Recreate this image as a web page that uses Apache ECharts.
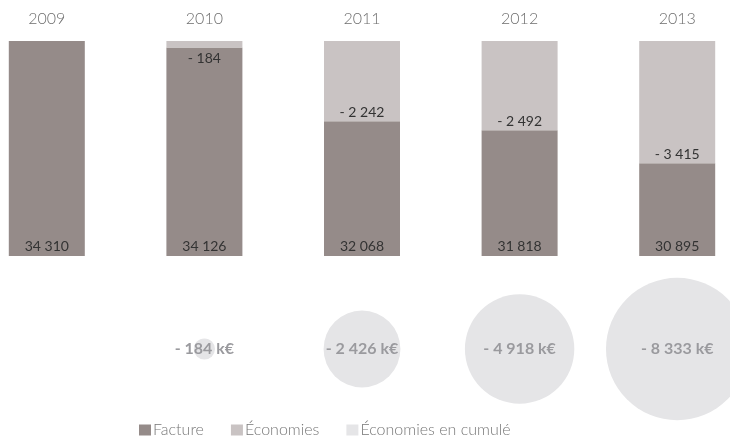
<!DOCTYPE html>
<html>
<head>
<meta charset="utf-8">
<script src="https://cdn.jsdelivr.net/npm/echarts@6/dist/echarts.min.js"></script>
<style>
    html, body { margin: 0; padding: 0; background: #fff; }
    #chart { width: 730px; height: 445px; }
</style>
</head>
<body>
<div id="chart"></div>
<script>
    const years = ['2009', '2010', '2011', '2012', '2013'];
    const facture = [34310, 34126, 32068, 31818, 30895];
    const economies = [0, 184, 2242, 2492, 3415];
    const cumul = [0, 184, 2426, 4918, 8333];

    const colors = ['#958b89', '#c9c3c3', '#e5e5e7'];
    const font = 'Lato, "Open Sans", sans-serif';

    function fmt(v) {
        return String(v).replace(/\B(?=(\d{3})+(?!\d))/g, ' ');
    }

    const bubbles = [];
    cumul.forEach(function (v, i) {
        if (v > 0) bubbles.push([years[i], 0, v]);
    });

    // la petite économie 2010 : étiquette posée sous le segment, trop fin pour la contenir
    const ecoData = economies.map(function (v) {
        if (v > 0 && v < 1000) {
            return {value: v, label: {position: 'bottom', distance: 4}};
        }
        return v;
    });

    const myChart = echarts.init(document.getElementById('chart'));
    const option = {
        color: colors,
        animation: false,
        textStyle: {fontFamily: font},
        legend: {
            left: 134,
            bottom: 2,
            itemWidth: 12,
            itemHeight: 11,
            itemGap: 27,
            icon: 'rect',
            textStyle: {color: '#777', fontSize: 16, fontWeight: 300, fontFamily: font, padding: [0, 0, 0, -3]},
            data: ['Facture', 'Économies', 'Économies en cumulé']
        },
        grid: [
            {left: -32, right: -26, top: 41, height: 215, outerBoundsMode: 'none', containLabel: false},
            {left: -32, right: -26, top: 280, height: 138, outerBoundsMode: 'none', containLabel: false}
        ],
        xAxis: [
            {
                type: 'category',
                gridIndex: 0,
                position: 'top',
                data: years,
                axisLine: {show: false},
                axisTick: {show: false},
                axisLabel: {color: '#6e6e6e', fontSize: 16, fontWeight: 300, margin: 14}
            },
            {
                type: 'category',
                gridIndex: 1,
                data: years,
                show: false
            }
        ],
        yAxis: [
            {type: 'value', gridIndex: 0, min: 28300, max: 34310, show: false},
            {type: 'value', gridIndex: 1, min: -1, max: 1, show: false}
        ],
        series: [
            {
                name: 'Facture',
                type: 'bar',
                stack: 'total',
                barWidth: 76,
                data: facture,
                label: {
                    show: true,
                    position: 'insideBottom',
                    distance: 3,
                    color: '#333',
                    fontSize: 14,
                    formatter: function (p) { return fmt(p.value); }
                }
            },
            {
                name: 'Économies',
                type: 'bar',
                stack: 'total',
                barWidth: 76,
                data: ecoData,
                label: {
                    show: true,
                    position: 'insideBottom',
                    distance: 2,
                    color: '#333',
                    fontSize: 14,
                    formatter: function (p) { return p.value > 0 ? '- ' + fmt(p.value) : ''; }
                }
            },
            {
                name: 'Économies en cumulé',
                type: 'scatter',
                xAxisIndex: 1,
                yAxisIndex: 1,
                data: bubbles,
                symbolSize: function (d) { return Math.sqrt(d[2]) * 1.56; },
                itemStyle: {opacity: 1},
                label: {
                    show: true,
                    position: 'inside',
                    color: '#9a9a9e',
                    fontSize: 16,
                    fontWeight: 'bold',
                    formatter: function (p) { return '- ' + fmt(p.value[2]) + ' k€'; }
                }
            }
        ]
    };
    myChart.setOption(option);
</script>
</body>
</html>
